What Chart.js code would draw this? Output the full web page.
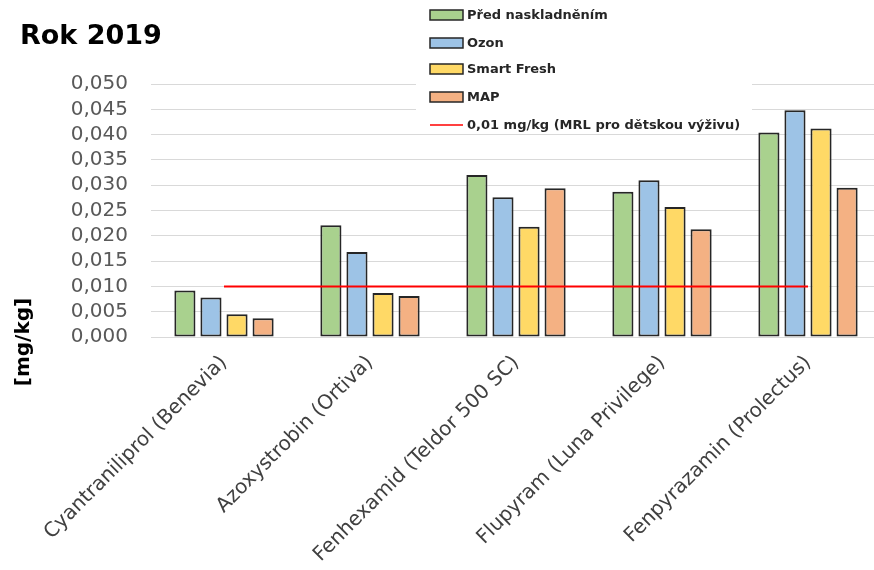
<!DOCTYPE html>
<html>
<head>
<meta charset="utf-8">
<script src="https://cdn.jsdelivr.net/npm/chart.js@4.4.1/dist/chart.umd.min.js"></script>
<style>
  html, body { margin: 0; padding: 0; background: #fff; overflow: hidden; }
  #wrap { width: 874px; height: 570px; overflow: hidden; position: relative; }
  #chart { display: block; }
</style>
</head>
<body>
<div id="wrap"><canvas id="chart" width="881" height="570"></canvas></div>
<script>
// ---------- data ----------
const categories = [
  'Cyantraniliprol (Benevia)',
  'Azoxystrobin (Ortiva)',
  'Fenhexamid (Teldor 500 SC)',
  'Flupyram (Luna Privilege)',
  'Fenpyrazamin (Prolectus)'
];
const seriesNames = ['Před naskladněním', 'Ozon', 'Smart Fresh', 'MAP'];
const predNaskladnenim = [0.0092, 0.0221, 0.0320, 0.0287, 0.0404];
const ozon            = [0.0078, 0.0168, 0.0276, 0.0310, 0.0448];
const smartFresh      = [0.0045, 0.0087, 0.0218, 0.0257, 0.0412];
const mapValues       = [0.0037, 0.0081, 0.0294, 0.0213, 0.0295];
const mrlLabel = '0,01 mg/kg (MRL pro dětskou výživu)';
const mrlValue = [0.01, 0.01, 0.01, 0.01, 0.01];
const yMax = 0.05;
const yStep = 0.005;

const COLORS = ['#A9D18E', '#9DC3E6', '#FFD966', '#F4B183'];
const BORDER = '#262626';
const FONT = '"DejaVu Sans", sans-serif';

const barSet = (label, data, color) => ({
  type: 'bar', label, data,
  backgroundColor: color, borderColor: BORDER, borderWidth: 2, borderSkipped: false,
  categoryPercentage: 0.714, barPercentage: 0.81, order: 1
});

// custom decorations: title, y label, legend box
const decorations = {
  id: 'decorations',
  afterDraw(chart) {
    const ctx = chart.ctx;
    ctx.save();
    // title
    ctx.fillStyle = '#000';
    ctx.font = 'bold 27px ' + FONT;
    ctx.textAlign = 'left';
    ctx.textBaseline = 'alphabetic';
    ctx.fillText('Rok 2019', 20, 44);

    // y axis title
    ctx.save();
    ctx.translate(24, 342);
    ctx.rotate(-Math.PI / 2);
    ctx.font = 'bold 20px ' + FONT;
    ctx.textAlign = 'center';
    ctx.textBaseline = 'middle';
    ctx.fillText('[mg/kg]', 0, 0);
    ctx.restore();

    // legend box
    ctx.fillStyle = '#fff';
    ctx.fillRect(416, 0, 336, 133);
    const rows = [15, 43, 69, 97, 125];
    ctx.font = 'bold 13px ' + FONT;
    ctx.textBaseline = 'middle';
    chart.data.datasets.forEach((ds, i) => {
      const y = rows[i];
      if (ds.type === 'line') {
        ctx.strokeStyle = ds.borderColor;
        ctx.lineWidth = 1.5;
        ctx.beginPath();
        ctx.moveTo(430, y);
        ctx.lineTo(463, y);
        ctx.stroke();
      } else {
        ctx.fillStyle = ds.backgroundColor;
        ctx.fillRect(430, y - 5, 33, 10);
        ctx.strokeStyle = BORDER;
        ctx.lineWidth = 1.5;
        ctx.strokeRect(430, y - 5, 33, 10);
      }
      ctx.fillStyle = '#262626';
      ctx.fillText(ds.label, 467, y + 1);
    });
    ctx.restore();
  }
};

new Chart(document.getElementById('chart'), {
  data: {
    labels: categories,
    datasets: [
      barSet(seriesNames[0], predNaskladnenim, COLORS[0]),
      barSet(seriesNames[1], ozon, COLORS[1]),
      barSet(seriesNames[2], smartFresh, COLORS[2]),
      barSet(seriesNames[3], mapValues, COLORS[3]),
      {
        type: 'line', label: mrlLabel, data: mrlValue,
        borderColor: '#FF0000', borderWidth: 2, pointRadius: 0, fill: false, order: 0
      }
    ]
  },
  options: {
    responsive: false,
    animation: false,
    layout: { padding: { top: 84, left: 0, right: 0, bottom: 0 } },
    plugins: { legend: { display: false }, tooltip: { enabled: false }, title: { display: false } },
    scales: {
      x: {
        offset: true,
        grid: { display: false, drawTicks: false },
        border: { display: false },
        ticks: {
          autoSkip: false, minRotation: 45, maxRotation: 45, padding: 14,
          color: '#404040', font: { family: FONT, size: 20 }
        },
        afterFit(scale) { scale.height = 233; }
      },
      y: {
        min: 0, max: yMax,
        grid: { color: '#D9D9D9', lineWidth: 1, drawTicks: false },
        border: { display: false },
        ticks: {
          stepSize: yStep, padding: 23, autoSkip: false, maxTicksLimit: 20,
          color: '#595959', font: { family: FONT, size: 20, lineHeight: 0.9 },
          callback: v => v.toFixed(3).replace('.', ',')
        },
        afterFit(scale) { scale.width = 151; }
      }
    }
  },
  plugins: [decorations]
});
</script>
</body>
</html>
